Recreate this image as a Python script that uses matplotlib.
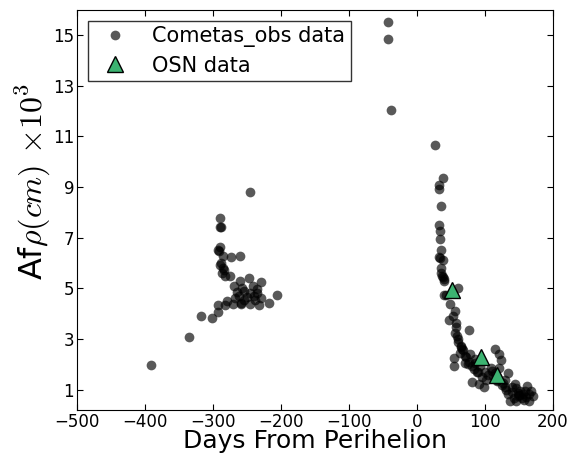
import matplotlib
matplotlib.use('Agg')
import matplotlib.pyplot as plt
import numpy as np

plt.rcParams['mathtext.fontset'] = 'cm'

# Cometas_obs data (days from perihelion, Afrho x 10^3 cm)
obs_x = [-391, -336, -317, -302, -293, -293, -283, -246, -290, -288,
         -289, -291, -285, -274, -260, -290, -286, -284, -283, -275,
         -260, -247, -229, -269, -258, -241, -236, -206, -268, -259,
         -259, -246, -232, -217, -262, -255, -250, -240, -235, -265,
         -255, -245, -238, -270, -230, -288, -287, -292, -289, -280,
         -43, -43, -38, 27,
         38, 33, 32, 35, 33, 34, 34, 35, 33, 38,
         35, 38, 40, 60, 40, 34, 36, 37, 39,
         42, 56, 47, 57, 77, 57, 56, 60, 65, 63,
         55, 55, 70, 78, 70, 81, 86, 88, 81, 96,
         98, 101, 114, 121, 124, 121, 109, 114, 134, 129,
         134, 144, 149, 146, 159, 167, 170, 164, 154, 142,
         137, 162, 129, 91, 61, 66, 72, 75, 84, 90,
         105, 110, 117, 125, 131, 139, 150, 156, 160, 152,
         145, 140, 165, 158, 148, 126, 118, 112, 100, 92,
         85, 76, 68, 64, 59, 53, 48]
obs_y = [1.98, 3.08, 3.91, 3.82, 4.07, 4.33, 4.35, 8.81, 7.76, 7.43,
         6.63, 6.47, 6.27, 6.24, 6.29, 5.92, 5.81, 5.71, 5.48, 5.49,
         5.29, 5.42, 5.26, 5.09, 5.03, 5.09, 4.96, 4.74, 4.63, 4.42,
         4.37, 4.37, 4.33, 4.42, 4.70, 4.55, 4.65, 4.70, 4.80, 4.85,
         4.90, 4.80, 4.55, 4.40, 4.60, 6.00, 5.60, 6.50, 7.40, 4.50,
         15.50, 14.85, 12.05, 10.65,
         9.36, 9.07, 8.91, 8.24, 7.50, 7.26, 6.93, 6.50, 6.24, 6.10,
         5.81, 5.45, 5.29, 5.03, 4.74, 6.20, 5.60, 5.50, 5.35,
         4.73, 4.11, 3.77, 3.63, 3.35, 3.49, 3.22, 2.88, 2.74, 2.46,
         2.26, 1.92, 2.33, 2.40, 2.05, 1.92, 2.05, 1.71, 1.30, 1.50,
         1.09, 1.37, 2.61, 2.40, 2.19, 1.84, 1.84, 1.64, 1.64, 1.09,
         0.82, 1.22, 0.89, 0.54, 0.95, 0.95, 0.75, 0.54, 0.68, 0.68,
         0.54, 1.15, 1.37, 1.22, 3.00, 2.60, 2.30, 2.00, 1.80, 1.70,
         1.60, 1.75, 1.40, 1.20, 1.00, 0.90, 0.80, 0.85, 0.70, 0.95,
         1.05, 1.10, 0.85, 0.60, 0.75, 1.25, 1.35, 1.55, 1.70, 1.95,
         2.20, 2.10, 2.55, 2.70, 3.10, 3.90, 4.40]

# OSN data
osn_x = [52, 94, 118]
osn_y = [4.95, 2.28, 1.60]

fig = plt.figure(figsize=(5.71, 4.54), dpi=100)
ax = fig.add_axes([77/571, 1-410/454, 476/571, 400.5/454])

ax.plot(obs_x, obs_y, 'o', color='k', alpha=0.65, markersize=7,
        markeredgewidth=0, label='Cometas_obs data')
ax.plot(osn_x, osn_y, '^', color='#3cb371', markeredgecolor='k',
        markeredgewidth=1, markersize=11, label='OSN data')

ax.set_xlim(-500, 200)
ax.set_ylim(0.2, 16)
ax.set_xticks(np.arange(-500, 201, 100))
ax.set_yticks(np.arange(1, 16, 2))
ax.tick_params(direction='in', top=True, right=True, length=4,
               labelsize=12, pad=2)
ax.set_xlabel('Days From Perihelion', fontsize=18, labelpad=-1)
ax.set_ylabel(r'Af$\rho (cm)$ $\times 10^3$', fontsize=23)
ax.yaxis.set_label_coords(-0.05, 0.57)

leg = ax.legend(loc='upper left', numpoints=1, fontsize=15, fancybox=False,
                labelspacing=0.4, borderpad=0.26, borderaxespad=0.55)
leg.get_frame().set_edgecolor('k')

fig.savefig('out.png', dpi=100)
